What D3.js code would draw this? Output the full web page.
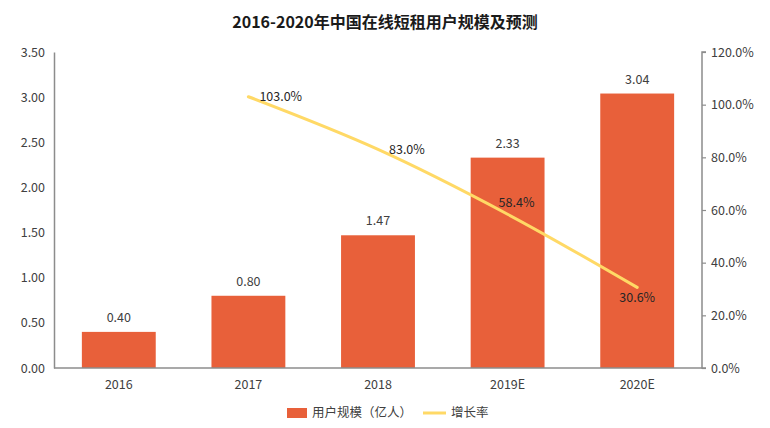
<!DOCTYPE html>
<html><head><meta charset="utf-8">
<script src="https://cdn.jsdelivr.net/npm/d3@7"></script>
<style>
body{margin:0;background:#fff;}
svg{display:block;font-family:"Noto Sans CJK SC","Noto Sans",sans-serif;}
</style></head>
<body>
<svg id="c" width="770" height="428"></svg>
<script>
const categories = ["2016","2017","2018","2019E","2020E"];
const users = [0.40, 0.80, 1.47, 2.33, 3.04];
const growth = [null, 103.0, 83.0, 58.4, 30.6];
const leftTicks = [0,0.5,1,1.5,2,2.5,3,3.5];
const rightTicks = [0,20,40,60,80,100,120];
const title = "2016-2020年中国在线短租用户规模及预测";
const legendBar = "用户规模（亿人）";
const legendLine = "增长率";

const svg = d3.select("#c");
const L = 54, R = 702, T = 52, B = 368;
const barColor = "#E8603A", lineColor = "#FFD966", axisColor = "#8c8c8c", textColor = "#404040";

const x = d3.scaleBand().domain(categories).range([L, R]).paddingInner(0.43).paddingOuter(0.215);
const yL = d3.scaleLinear().domain([0, 3.5]).range([B, T]);
const yR = d3.scaleLinear().domain([0, 120]).range([B, T]);

svg.append("text").attr("x", 385).attr("y", 28).attr("text-anchor", "middle")
  .attr("font-size", 16).attr("font-weight", "bold").attr("fill", "#1a1a1a").text(title);

// bars
svg.selectAll("rect.bar").data(users).join("rect").attr("class","bar")
  .attr("x", (d,i)=>x(categories[i])).attr("width", x.bandwidth())
  .attr("y", d=>yL(d)).attr("height", d=>B - yL(d)).attr("fill", barColor);

svg.selectAll("text.bl").data(users).join("text").attr("class","bl")
  .attr("x", (d,i)=>x(categories[i]) + x.bandwidth()/2).attr("y", d=>yL(d) - 10)
  .attr("text-anchor","middle").attr("font-size", 12.5).attr("fill", textColor)
  .text(d=>d.toFixed(2));

// axes
const axL = svg.append("g").attr("transform", `translate(${L},0)`)
  .call(d3.axisLeft(yL).tickValues(leftTicks).tickSize(0).tickPadding(9).tickFormat(d3.format(".2f")));
const axR = svg.append("g").attr("transform", `translate(${R},0)`)
  .call(d3.axisRight(yR).tickValues(rightTicks).tickSize(4).tickPadding(5).tickFormat(d=>d.toFixed(1)+"%"));
const axB = svg.append("g").attr("transform", `translate(0,${B})`)
  .call(d3.axisBottom(x).tickSize(0).tickPadding(12));
[axL, axR, axB].forEach(g=>{
  g.select(".domain").attr("stroke", axisColor).attr("stroke-width", 1.5);
  g.selectAll(".tick line").attr("stroke", axisColor).attr("stroke-width", 1.2);
  g.selectAll(".tick text").attr("fill", textColor).attr("font-size", 12.5)
    .attr("font-family", '"Noto Sans CJK SC","Noto Sans",sans-serif');
});
axB.select(".domain").attr("d", `M${L},0H${R}`);
axR.select(".domain").attr("d", `M4,${T}H0V${B}H4`);

// growth line
const pts = growth.map((g,i)=>({g, c: categories[i]})).filter(p=>p.g!==null);
const line = d3.line().x(p=>x(p.c)+x.bandwidth()/2).y(p=>yR(p.g)).curve(d3.curveMonotoneX);
svg.append("path").datum(pts).attr("d", line).attr("fill","none")
  .attr("stroke", lineColor).attr("stroke-width", 3).attr("stroke-linecap","round");

const labelOffsets = [[11,0,"start"],[11,0,"start"],[-9,-12,"start"],[0,10,"middle"]];
svg.selectAll("text.gl").data(pts).join("text").attr("class","gl")
  .attr("x", (p,i)=>x(p.c)+x.bandwidth()/2 + labelOffsets[i][0])
  .attr("y", (p,i)=>yR(p.g) + labelOffsets[i][1])
  .attr("dy","0.35em").attr("text-anchor",(p,i)=>labelOffsets[i][2])
  .attr("font-size", 12.5).attr("fill", "#262626").text(p=>p.g.toFixed(1)+"%");

// legend
const lg = svg.append("g");
lg.append("rect").attr("x", 287).attr("y", 408).attr("width", 20).attr("height", 10).attr("fill", barColor);
lg.append("text").attr("x", 312).attr("y", 413).attr("dy","0.35em").attr("font-size", 12.5).attr("fill", textColor).text(legendBar);
lg.append("line").attr("x1", 423).attr("x2", 446).attr("y1", 413).attr("y2", 413).attr("stroke", lineColor).attr("stroke-width", 3);
lg.append("text").attr("x", 451).attr("y", 413).attr("dy","0.35em").attr("font-size", 12.5).attr("fill", textColor).text(legendLine);
</script>
</body></html>
